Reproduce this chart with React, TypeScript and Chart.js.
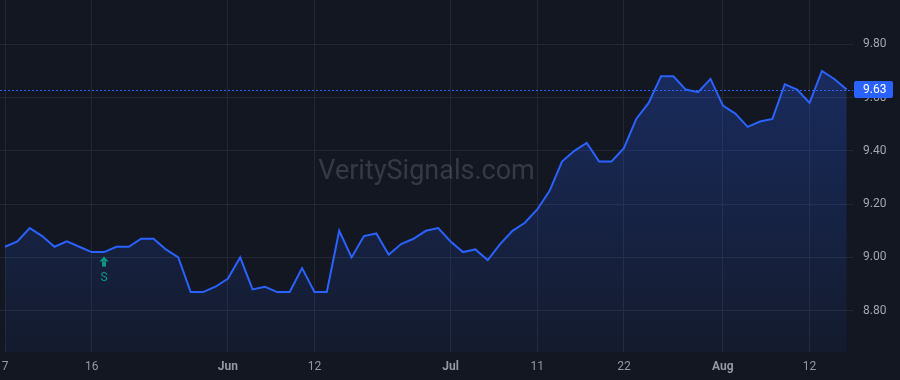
import React, { useEffect, useRef } from "react";
import { Chart, registerables } from "chart.js";

Chart.register(...registerables);

// Daily closes (one per trading bar, index 0 = first bar)
const prices = [
  9.04, 9.06, 9.11, 9.08, 9.04, 9.06, 9.04, 9.02, 9.02, 9.04,
  9.04, 9.07, 9.07, 9.03, 9.0, 8.87, 8.87, 8.89, 8.92, 9.0,
  8.88, 8.89, 8.87, 8.87, 8.96, 8.87, 8.87, 9.1, 9.0, 9.08,
  9.09, 9.01, 9.05, 9.07, 9.1, 9.11, 9.06, 9.02, 9.03, 8.99,
  9.05, 9.1, 9.13, 9.18, 9.25, 9.36, 9.4, 9.43, 9.36, 9.36,
  9.41, 9.52, 9.58, 9.68, 9.68, 9.63, 9.62, 9.67, 9.57, 9.54,
  9.49, 9.51, 9.52, 9.65, 9.63, 9.58, 9.7, 9.67, 9.63,
];

// Time-axis labels (bar index -> text)
const xTickIndex = [0, 7, 18, 25, 36, 43, 50, 58, 65];
const xTickText = ["7", "16", "Jun", "12", "Jul", "11", "22", "Aug", "12"];
const xTickBold = [false, false, true, false, true, false, false, true, false];

// Price-axis labels
const yTicks = [8.8, 9.0, 9.2, 9.4, 9.6, 9.8];

// Signal markers
const signalIndex = [8];
const signalText = ["S"];

const watermarkText = "VeritySignals.com";

const BG = "#131722";
const GRID = "#232734";
const LINE = "#2962ff";
const SIGNAL = "#089981";
const FONT = "Roboto, 'Noto Sans', sans-serif";

export default function App() {
  const ref = useRef<HTMLCanvasElement | null>(null);

  useEffect(() => {
    document.body.style.margin = "0";
    document.body.style.background = BG;
    const canvas = ref.current;
    if (!canvas) return;

    const overlay = {
      id: "overlay",
      beforeDraw(chart: any) {
        const { ctx, width, height } = chart;
        ctx.save();
        ctx.fillStyle = BG;
        ctx.fillRect(0, 0, width, height);
        ctx.restore();
      },
      beforeDatasetsDraw(chart: any) {
        const { ctx, chartArea } = chart;
        ctx.save();
        ctx.font = `27px ${FONT}`;
        ctx.fillStyle = "rgba(255,255,255,0.15)";
        ctx.textAlign = "center";
        ctx.textBaseline = "middle";
        ctx.fillText(watermarkText, (chartArea.left + chartArea.right) / 2, 172);
        ctx.restore();
      },
      afterDatasetsDraw(chart: any) {
        const { ctx, chartArea, scales } = chart;
        const xs = scales.x;
        const ys = scales.y;
        ctx.save();
        signalIndex.forEach((idx, k) => {
          const px = xs.getPixelForValue(idx);
          const py = ys.getPixelForValue(prices[idx]);
          const tip = py + 4.5;
          ctx.fillStyle = SIGNAL;
          ctx.beginPath();
          ctx.moveTo(px, tip);
          ctx.lineTo(px - 4.5, tip + 5);
          ctx.lineTo(px + 4.5, tip + 5);
          ctx.closePath();
          ctx.fill();
          ctx.fillRect(px - 2, tip + 5, 4, 5);
          ctx.font = `12px ${FONT}`;
          ctx.textAlign = "center";
          ctx.textBaseline = "middle";
          ctx.fillText(signalText[k], px, tip + 21);
        });
        ctx.restore();
        const last = prices[prices.length - 1];
        const y = Math.round(ys.getPixelForValue(last)) + 0.5;
        ctx.save();
        ctx.strokeStyle = LINE;
        ctx.lineWidth = 1;
        ctx.setLineDash([2, 2]);
        ctx.beginPath();
        ctx.moveTo(chartArea.left, y);
        ctx.lineTo(chartArea.right, y);
        ctx.stroke();
        ctx.restore();
      },
      afterDraw(chart: any) {
        const { ctx, chartArea, scales } = chart;
        const last = prices[prices.length - 1];
        const y = scales.y.getPixelForValue(last);
        ctx.save();
        ctx.fillStyle = LINE;
        const bx = chartArea.right + 1;
        ctx.beginPath();
        (ctx as any).roundRect(bx, y - 8.5, 893 - bx, 17, 2);
        ctx.fill();
        ctx.fillStyle = "#ffffff";
        ctx.font = `12px ${FONT}`;
        ctx.textAlign = "left";
        ctx.textBaseline = "middle";
        ctx.fillText(last.toFixed(2), chartArea.right + 10, y + 0.5);
        ctx.restore();
      },
    };

    const zeroPad = (s: any) => {
      s.paddingTop = 0;
      s.paddingBottom = 0;
      s.paddingLeft = 0;
      s.paddingRight = 0;
    };

    const chart = new Chart(canvas, {
      type: "line",
      data: {
        datasets: [
          {
            data: prices.map((v, i) => ({ x: i, y: v })),
            borderColor: LINE,
            borderWidth: 2,
            pointRadius: 0,
            tension: 0,
            fill: "start",
            backgroundColor: (c: any) => {
              const ca = c.chart.chartArea;
              if (!ca) return "rgba(41,98,255,0.15)";
              const g = c.chart.ctx.createLinearGradient(0, 60, 0, ca.bottom);
              g.addColorStop(0, "rgba(41,98,255,0.28)");
              g.addColorStop(1, "rgba(41,98,255,0.05)");
              return g;
            },
          },
        ],
      },
      options: {
        responsive: false,
        animation: false,
        devicePixelRatio: 1,
        layout: { padding: 0 },
        plugins: { legend: { display: false }, tooltip: { enabled: false } },
        scales: {
          x: {
            type: "linear",
            min: -0.404,
            max: 68.51,
            afterBuildTicks: (s: any) => {
              s.ticks = xTickIndex.map((v) => ({ value: v }));
            },
            afterFit: (s: any) => {
              s.height = 28;
              zeroPad(s);
            },
            grid: { color: GRID, drawTicks: false, lineWidth: 1 },
            border: { display: false },
            ticks: {
              autoSkip: false,
              maxRotation: 0,
              padding: 8,
              color: "#9598a1",
              font: (c: any) => {
                const k = xTickIndex.indexOf(c.tick ? c.tick.value : -1);
                return { family: FONT, size: 12, weight: k >= 0 && xTickBold[k] ? "bold" : "normal" };
              },
              callback: (v: any) => {
                const k = xTickIndex.indexOf(Number(v));
                return k >= 0 ? xTickText[k] : "";
              },
            },
          },
          y: {
            position: "right",
            min: 8.645,
            max: 9.9663,
            afterBuildTicks: (s: any) => {
              s.ticks = yTicks.map((v) => ({ value: v }));
            },
            afterFit: (s: any) => {
              s.width = 47;
              zeroPad(s);
            },
            grid: { color: GRID, drawTicks: false, lineWidth: 1 },
            border: { display: false },
            ticks: {
              padding: 10,
              crossAlign: "near",
              color: "#a3a6af",
              font: { family: FONT, size: 12 },
              callback: (v: any) => Number(v).toFixed(2),
            },
          },
        },
      },
      plugins: [overlay],
    } as any);

    return () => chart.destroy();
  }, []);

  return (
    <div style={{ position: "fixed", left: 0, top: 0, width: 900, height: 380 }}>
      <canvas ref={ref} width={900} height={380} style={{ width: 900, height: 380, display: "block" }} />
    </div>
  );
}
